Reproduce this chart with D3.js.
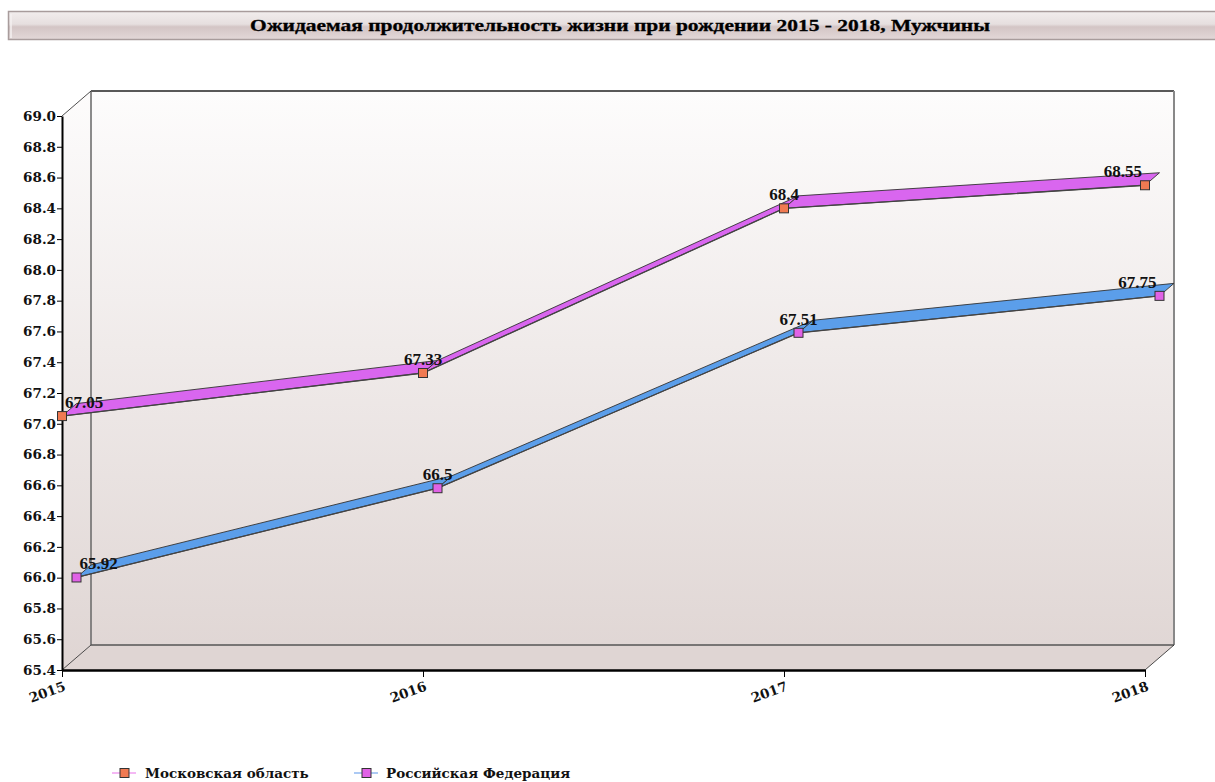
<!DOCTYPE html>
<html><head><meta charset="utf-8">
<script src="https://cdn.jsdelivr.net/npm/d3@7"></script>
<style>body{margin:0;background:#fff;} svg{display:block;}</style>
</head><body>
<svg id="c" width="1215" height="782"></svg>
<script>
const title = "Ожидаемая продолжительность жизни при рождении 2015 - 2018, Мужчины";
const years = ["2015", "2016", "2017", "2018"];
const seriesNames = ["Московская область", "Российская Федерация"];
const moscow = [67.05, 67.33, 68.4, 68.55];
const russia = [65.92, 66.5, 67.51, 67.75];
const yTickLabels = [65.4, 65.6, 65.8, 66.0, 66.2, 66.4, 66.6, 66.8, 67.0, 67.2, 67.4, 67.6, 67.8, 68.0, 68.2, 68.4, 68.6, 68.8, 69.0];
const ribbonColors = ["#d966ef", "#5b9eea"];
const markerColors = ["#f07a52", "#e062e6"];
const legendLineColors = ["#f0a0f0", "#90b8f0"];

const series = [
  {name: seriesNames[0], values: moscow, ribbon: ribbonColors[0], marker: markerColors[0], legendLine: legendLineColors[0], z0: 0, z1: 0.5},
  {name: seriesNames[1], values: russia, ribbon: ribbonColors[1], marker: markerColors[1], legendLine: legendLineColors[1], z0: 0.5, z1: 1}
];

const svg = d3.select("#c");
const DX = 29, DY = -25;
const x = d3.scalePoint().domain(years).range([62, 1145]);
const y = d3.scaleLinear().domain([65.4, 69.0]).range([670, 116]);
const defs = svg.append("defs");

const tg = defs.append("linearGradient").attr("id","tg").attr("x1",0).attr("y1",0).attr("x2",0).attr("y2",1);
[["0%","#f2eded"],["45%","#e6dfdf"],["55%","#d3c5c5"],["100%","#e3d8d8"]].forEach(s=>tg.append("stop").attr("offset",s[0]).attr("stop-color",s[1]));
const wg = defs.append("linearGradient").attr("id","wg").attr("gradientUnits","userSpaceOnUse")
  .attr("x1",0).attr("y1",92).attr("x2",0).attr("y2",670);
[["0%","#fdfcfc"],["100%","#dfd5d3"]].forEach(s=>wg.append("stop").attr("offset",s[0]).attr("stop-color",s[1]));

svg.append("rect").attr("x",8.5).attr("y",11.5).attr("width",1220).attr("height",28)
  .attr("fill","url(#tg)").attr("stroke","#a89c9c").attr("stroke-width",1.5);
svg.append("line").attr("x1",11).attr("x2",11).attr("y1",14).attr("y2",38).attr("stroke","#f5f0f0").attr("stroke-width",1.5);
svg.append("text").attr("x",620).attr("y",31).attr("text-anchor","middle")
  .attr("font-family","Liberation Serif, serif").attr("font-weight","bold").attr("font-size",17.5)
  .attr("textLength",740).attr("lengthAdjust","spacingAndGlyphs").attr("fill","#000")
  .attr("stroke","#000").attr("stroke-width",0.3).text(title);

const x0 = x.range()[0], x1 = x.range()[1], yb = y.range()[0], yt = y.range()[1];
svg.append("rect").attr("x",x0+DX).attr("y",yt+DY).attr("width",x1-x0).attr("height",yb-yt)
  .attr("fill","url(#wg)");
svg.append("path").attr("d",`M${x0},${yt}L${x0+DX},${yt+DY}L${x0+DX},${yb+DY}L${x0},${yb}Z`).attr("fill","url(#wg)");
svg.append("path").attr("d",`M${x0},${yb}L${x0+DX},${yb+DY}L${x1+DX},${yb+DY}L${x1},${yb}Z`).attr("fill","#dfd5d3");
svg.append("line").attr("x1",x0+DX).attr("x2",x1+DX).attr("y1",yt+DY).attr("y2",yt+DY).attr("stroke","#222").attr("stroke-width",1.5);
svg.append("line").attr("x1",x0+DX).attr("x2",x0+DX).attr("y1",yt+DY).attr("y2",yb+DY).attr("stroke","#666").attr("stroke-width",1.5);
svg.append("line").attr("x1",x1+DX).attr("x2",x1+DX).attr("y1",yt+DY).attr("y2",yb+DY).attr("stroke","#888").attr("stroke-width",2);
svg.append("line").attr("x1",x0+DX).attr("x2",x1+DX).attr("y1",yb+DY).attr("y2",yb+DY).attr("stroke","#555").attr("stroke-width",1.5);
[[x0,yt],[x0,yb],[x1,yb]].forEach(p=>svg.append("line").attr("x1",p[0]).attr("y1",p[1]).attr("x2",p[0]+DX).attr("y2",p[1]+DY).attr("stroke","#222").attr("stroke-width",0.8));

const yAxis = svg.append("g").attr("transform",`translate(${x0},0)`)
  .call(d3.axisLeft(y).tickValues(yTickLabels).tickFormat(d3.format(".1f")).tickSize(5).tickSizeOuter(0));
yAxis.select(".domain").attr("stroke","#000").attr("stroke-width",2);
yAxis.selectAll(".tick line").attr("stroke","#000");
yAxis.selectAll(".tick text").attr("font-family","DejaVu Serif, serif").attr("font-weight","bold").attr("font-size",13.5).attr("fill","#111").attr("x",-6);

const xAxis = svg.append("g").attr("transform",`translate(0,${yb})`)
  .call(d3.axisBottom(x).tickSize(7).tickSizeOuter(0));
xAxis.select(".domain").attr("stroke","#000").attr("stroke-width",2.5);
xAxis.selectAll(".tick line").attr("stroke","#000");
xAxis.selectAll(".tick text").attr("font-family","DejaVu Serif, serif").attr("font-weight","bold").attr("font-size",13.5).attr("fill","#111")
  .attr("text-anchor","end").attr("y",0).attr("dy",0).attr("transform","translate(4,20) rotate(-20)");

series.forEach(s => {
  const g = svg.append("g");
  const fx = d => x(d.year) + DX*s.z0, fy = d => y(d.v) + DY*s.z0;
  const bx = d => x(d.year) + DX*s.z1, by = d => y(d.v) + DY*s.z1;
  const pts = s.values.map((v,i)=>({year: years[i], v}));
  const segs = d3.pairs(pts);
  g.selectAll("path.seg").data(segs).join("path").attr("class","seg")
    .attr("d", ([a,b]) => `M${fx(a)},${fy(a)}L${fx(b)},${fy(b)}L${bx(b)},${by(b)}L${bx(a)},${by(a)}Z`)
    .attr("fill", s.ribbon).attr("stroke","#333").attr("stroke-width",0.9).attr("stroke-linejoin","round");
  g.append("path").attr("d", d3.line().x(fx).y(fy)(pts)).attr("fill","none").attr("stroke","#444").attr("stroke-width",1.3);
  g.selectAll("rect.mk").data(pts).join("rect").attr("class","mk")
    .attr("x", d=>fx(d)-4.5).attr("y", d=>fy(d)-4.5).attr("width",9).attr("height",9)
    .attr("fill", s.marker).attr("stroke","#333").attr("stroke-width",1);
  const minX = x(years[0]) + DX*s.z0, maxX = x(years[years.length-1]) + DX*s.z0;
  g.selectAll("text.lbl").data(pts).join("text").attr("class","lbl")
    .attr("font-family","Liberation Serif, serif").attr("font-weight","bold").attr("font-size",17).attr("fill","#111")
    .attr("text-anchor","middle").attr("y", d=>fy(d)-8).text(d=>String(d.v))
    .each(function(d){
      const w = this.getComputedTextLength();
      const cx = Math.max(minX + w/2 + 3, Math.min(maxX - w/2 - 3, fx(d)));
      d3.select(this).attr("x", cx);
    });
});

const legendPos = [{lx:112, tx:145}, {lx:354, tx:386}];
series.forEach((s,i) => {
  const g = svg.append("g");
  const ly = 773;
  g.append("line").attr("x1",legendPos[i].lx).attr("x2",legendPos[i].lx+24).attr("y1",ly).attr("y2",ly).attr("stroke",s.legendLine).attr("stroke-width",1.5);
  g.append("rect").attr("x",legendPos[i].lx+8).attr("y",ly-4.5).attr("width",9).attr("height",9).attr("fill",s.marker).attr("stroke","#333").attr("stroke-width",1);
  g.append("text").attr("x",legendPos[i].tx).attr("y",ly+5).attr("font-family","DejaVu Serif, serif").attr("font-weight","bold").attr("font-size",13.5).attr("fill","#111").text(s.name);
});
</script>
</body></html>
